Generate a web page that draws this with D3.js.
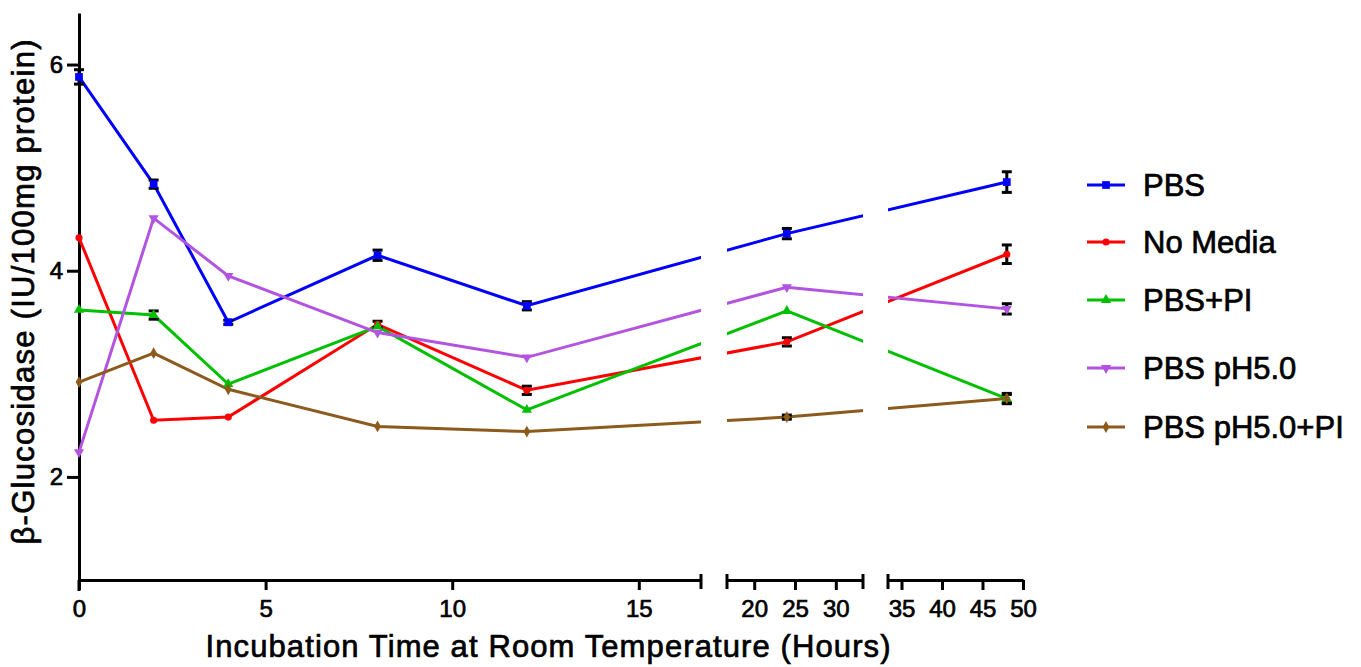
<!DOCTYPE html>
<html>
<head>
<meta charset="utf-8">
<script src="https://cdn.jsdelivr.net/npm/d3@7"></script>
<style>
  body { margin: 0; background: #fff; }
  text { font-family: "Liberation Sans", Arial, sans-serif; fill: #000; stroke: #000; stroke-width: 0.7px; }
</style>
</head>
<body>
<div id="chart"></div>
<script>
// data
let hours = [0, 2, 4, 8, 12, 24, 48];
let seriesNames = ['PBS', 'No Media', 'PBS+PI', 'PBS pH5.0', 'PBS pH5.0+PI'];
let pbs      = [5.88, 4.84, 3.50, 4.15, 3.66, 4.36, 4.86];
let noMedia  = [4.32, 2.55, 2.58, 3.48, 2.84, 3.31, 4.16];
let pbsPi    = [3.62, 3.57, 2.90, 3.46, 2.65, 3.61, 2.76];
let ph5      = [2.24, 4.51, 3.95, 3.40, 3.16, 3.84, 3.63];
let ph5Pi    = [2.92, 3.20, 2.85, 2.49, 2.44, 2.58, 2.76];
let pbsErr     = [0.07, 0.04, 0.02, 0.05, 0.04, 0.05, 0.10];
let noMediaErr = [0, 0, 0, 0.03, 0.04, 0.04, 0.09];
let pbsPiErr   = [0, 0.04, 0, 0, 0, 0, 0.04];
let ph5Err     = [0, 0, 0, 0, 0, 0, 0.05];
let ph5PiErr   = [0, 0, 0, 0, 0, 0.02, 0.05];
let xTicks1 = [0, 5, 10, 15];
let xTicks2 = [20, 25, 30];
let xTicks3 = [35, 40, 45, 50];
let yTicks = [2, 4, 6];
let breaks = [50 / 3, 100 / 3];

let colors = ['#0000ff', '#ff0000', '#00c000', '#b354e0', '#8c5a1c'];
let symbols = [d3.symbolSquare, d3.symbolCircle, d3.symbolTriangle, d3.symbolTriangle, d3.symbolDiamond];
let symSizes = [60, 40, 45, 45, 40];
let symRot = [0, 0, 0, 180, 0];

let w = 1361;
let h = 667;
let axisY = 580;

let svg = d3.select('#chart').append('svg')
    .attr('width', w)
    .attr('height', h);
svg.append('rect').attr('width', w).attr('height', h).attr('fill', '#fff');

// three pieces of the broken x axis
let x1 = d3.scaleLinear().domain([0, breaks[0]]).range([79, 701]);
let x2 = d3.scaleLinear().domain([breaks[0], breaks[1]]).range([727, 863]);
let x3 = d3.scaleLinear().domain([breaks[1], 50]).range([888, 1023]);
let xPos = function(t) {
    if (t <= breaks[0]) return x1(t);
    if (t <= breaks[1]) return x2(t);
    return x3(t);
};
let y = d3.scaleLinear().domain([1, 6.5]).range([axisY, 13]);

function styleAxis(g) {
    g.select('.domain').attr('stroke', '#000').attr('stroke-width', 3);
    g.selectAll('.tick line').attr('stroke', '#000').attr('stroke-width', 3);
    g.selectAll('.tick text')
        .attr('font-size', '24px')
        .attr('font-family', '"Liberation Sans", Arial, sans-serif')
        .attr('fill', '#000');
}

[[x1, xTicks1], [x2, xTicks2], [x3, xTicks3]].forEach(function(p) {
    let ax = d3.axisBottom(p[0]).tickValues(p[1]).tickFormat(d3.format('d'))
        .tickSize(10).tickSizeOuter(0).tickPadding(10);
    svg.append('g').attr('transform', 'translate(0,' + axisY + ')').call(ax).call(styleAxis);
});

// caps at the breaks
[x1(breaks[0]), x2(breaks[0]), x2(breaks[1]), x3(breaks[1])].forEach(function(cx) {
    svg.append('line')
        .attr('x1', cx).attr('x2', cx)
        .attr('y1', axisY - 6).attr('y2', axisY + 9)
        .attr('stroke', '#000').attr('stroke-width', 3);
});

let yAxis = d3.axisLeft(y).tickValues(yTicks).tickFormat(d3.format('d'))
    .tickSize(12).tickSizeOuter(0).tickPadding(4);
svg.append('g').attr('transform', 'translate(79,0)').call(yAxis).call(styleAxis);
// y axis runs down to the x tick at 0
svg.append('line').attr('x1', 79).attr('x2', 79).attr('y1', axisY).attr('y2', axisY + 11)
    .attr('stroke', '#000').attr('stroke-width', 3);

// axis titles
svg.append('text')
    .attr('x', 548).attr('y', 657)
    .attr('text-anchor', 'middle')
    .attr('font-size', '31px')
    .attr('textLength', 685).attr('lengthAdjust', 'spacing')
    .text('Incubation Time at Room Temperature (Hours)');

svg.append('text')
    .attr('transform', 'translate(34,292) rotate(-90)')
    .attr('text-anchor', 'middle')
    .attr('font-size', '31px')
    .attr('textLength', 505).attr('lengthAdjust', 'spacing')
    .text('β-Glucosidase (IU/100mg protein)');

// lines, clipped so the breaks show as gaps
let clip = svg.append('clipPath').attr('id', 'segs');
clip.append('rect').attr('x', 0).attr('y', 0).attr('width', 701).attr('height', h);
clip.append('rect').attr('x', 727).attr('y', 0).attr('width', 863 - 727).attr('height', h);
clip.append('rect').attr('x', 888).attr('y', 0).attr('width', w - 888).attr('height', h);

let allValues = [pbs, noMedia, pbsPi, ph5, ph5Pi];
let allErr = [pbsErr, noMediaErr, pbsPiErr, ph5Err, ph5PiErr];

let line = d3.line()
    .x(function(d) { return xPos(d[0]); })
    .y(function(d) { return y(d[1]); });

let lineG = svg.append('g').attr('clip-path', 'url(#segs)');
allValues.forEach(function(vals, i) {
    lineG.append('path')
        .datum(hours.map(function(t, j) { return [t, vals[j]]; }))
        .attr('d', line)
        .attr('fill', 'none')
        .attr('stroke', colors[i])
        .attr('stroke-width', 3);
});

// error bars
allValues.forEach(function(vals, i) {
    let pts = hours.map(function(t, j) { return {t: t, v: vals[j], e: allErr[i][j]}; })
        .filter(function(d) { return d.e > 0; });
    let g = svg.append('g').attr('stroke', '#000').attr('stroke-width', 3);
    pts.forEach(function(d) {
        let cx = xPos(d.t);
        g.append('line').attr('x1', cx).attr('x2', cx).attr('y1', y(d.v + d.e)).attr('y2', y(d.v - d.e));
        g.append('line').attr('x1', cx - 5).attr('x2', cx + 5).attr('y1', y(d.v + d.e)).attr('y2', y(d.v + d.e));
        g.append('line').attr('x1', cx - 5).attr('x2', cx + 5).attr('y1', y(d.v - d.e)).attr('y2', y(d.v - d.e));
    });
});

// markers
allValues.forEach(function(vals, i) {
    svg.selectAll('.m' + i)
        .data(vals)
        .enter()
        .append('path')
        .attr('d', d3.symbol().type(symbols[i]).size(symSizes[i]))
        .attr('transform', function(d, j) {
            return 'translate(' + xPos(hours[j]) + ',' + y(d) + ') rotate(' + symRot[i] + ')';
        })
        .attr('fill', colors[i]);
});

// legend
let legendY = [185, 242, 300, 368, 427];
seriesNames.forEach(function(name, i) {
    let g = svg.append('g').attr('transform', 'translate(0,' + legendY[i] + ')');
    g.append('line').attr('x1', 1087).attr('x2', 1125).attr('y1', 0).attr('y2', 0)
        .attr('stroke', colors[i]).attr('stroke-width', 3);
    g.append('path')
        .attr('d', d3.symbol().type(symbols[i]).size(symSizes[i]))
        .attr('transform', 'translate(1106,0) rotate(' + symRot[i] + ')')
        .attr('fill', colors[i]);
    g.append('text')
        .attr('x', 1143).attr('y', 11)
        .attr('font-size', '31px')
        .text(name);
});
</script>
</body>
</html>
